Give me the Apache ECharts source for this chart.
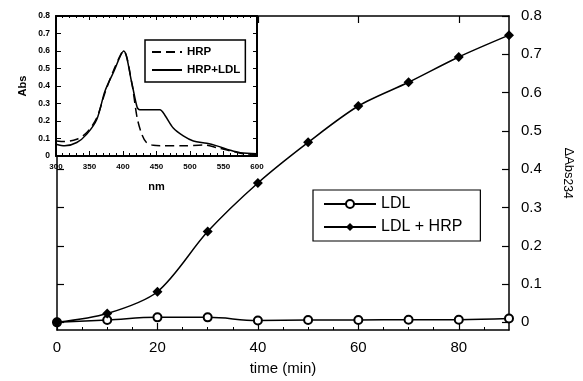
<!DOCTYPE html>
<html>
<head>
<meta charset="utf-8">
<script src="https://cdn.jsdelivr.net/npm/echarts@6/dist/echarts.min.js"></script>
<style>
  html, body { margin: 0; padding: 0; background: #fff; }
  #chart { width: 583px; height: 381px; }
</style>
</head>
<body>
<div id="chart"></div>
<script>
// main plot: time (min) vs delta Abs 234
var times = [0, 10, 20, 30, 40, 50, 60, 70, 80, 90];
var ldl = [0.0, 0.006, 0.013, 0.013, 0.005, 0.006, 0.006, 0.007, 0.007, 0.01];
var ldlHrp = [0.0, 0.023, 0.08, 0.237, 0.364, 0.47, 0.565, 0.627, 0.693, 0.75];

// inset spectra
var nmSolid = [300, 313, 331, 346, 361, 373, 386, 401, 413, 421, 425, 455, 463, 475, 490, 505, 525, 540, 560, 575, 600];
var absSolid = [0.067, 0.058, 0.077, 0.125, 0.21, 0.37, 0.48, 0.6, 0.42, 0.28, 0.265, 0.265, 0.23, 0.16, 0.115, 0.086, 0.073, 0.058, 0.033, 0.019, 0.013];
var nmDashed = [300, 313, 331, 346, 361, 373, 386, 401, 413, 421, 428, 435, 445, 460, 490, 520, 540, 560, 580, 600];
var absDashed = [0.086, 0.083, 0.096, 0.134, 0.22, 0.36, 0.49, 0.6, 0.42, 0.22, 0.125, 0.077, 0.061, 0.058, 0.058, 0.063, 0.048, 0.029, 0.013, 0.01];

var mainYTicks = [0, 0.1, 0.2, 0.3, 0.4, 0.5, 0.6, 0.7, 0.8];
var mainXLabels = [0, 20, 40, 60, 80];

function pairs(xs, ys) {
  return xs.map(function (x, i) { return [x, ys[i]]; });
}

var font = 'Liberation Sans';
var black = '#000';

var chart = echarts.init(document.getElementById('chart'));

var option = {
  backgroundColor: '#fff',
  animation: false,
  textStyle: { fontFamily: font, color: black },
  grid: [
    { left: 57, right: 69, top: 16, bottom: 49 },
    { left: 56, width: 201, top: 16, height: 140, show: true, backgroundColor: '#fff', borderWidth: 0, z: 5 }
  ],
  legend: [
    {
      data: ['LDL', 'LDL + HRP'],
      orient: 'vertical',
      left: 313, top: 190,
      padding: [6, 18, 6, 10],
      itemGap: 7,
      itemWidth: 52, itemHeight: 10,
      borderColor: black, borderWidth: 1.2,
      backgroundColor: '#fff',
      textStyle: { fontSize: 16, color: black, fontFamily: font }
    },
    {
      data: [
        { name: 'HRP', itemStyle: { opacity: 0 } },
        { name: 'HRP+LDL', itemStyle: { opacity: 0 } }
      ],
      orient: 'vertical',
      left: 145, top: 40,
      padding: [6, 5, 6, 6],
      itemGap: 6,
      itemWidth: 30, itemHeight: 10,
      borderColor: black, borderWidth: 1.5,
      backgroundColor: '#fff',
      z: 10,
      textStyle: { fontSize: 11.5, fontWeight: 'bold', color: black, fontFamily: font }
    }
  ],
  xAxis: [
    {
      type: 'value', gridIndex: 0, min: 0, max: 90, position: 'bottom',
      name: 'time (min)', nameLocation: 'middle', nameGap: 31,
      nameTextStyle: { fontSize: 15, color: black },
      axisLine: { onZero: false, lineStyle: { color: black, width: 1.5 } },
      axisTick: { inside: true, length: 7, customValues: [0, 20, 40, 60, 80], lineStyle: { color: black, width: 1.2 } },
      minorTick: { show: true, splitNumber: 4, length: 3, lineStyle: { color: black } },
      axisLabel: { customValues: mainXLabels, fontSize: 15, color: black, margin: 10 },
      splitLine: { show: false }
    },
    {
      type: 'value', gridIndex: 0, min: 0, max: 90, position: 'top',
      axisLine: { onZero: false, lineStyle: { color: black, width: 1.5 } },
      axisTick: { inside: true, length: 7, customValues: [20, 40, 60, 80], lineStyle: { color: black, width: 1.2 } },
      axisLabel: { show: false },
      splitLine: { show: false }
    },
    {
      type: 'value', gridIndex: 1, min: 300, max: 600, interval: 50, position: 'bottom',
      name: 'nm', nameLocation: 'middle', nameGap: 25,
      nameTextStyle: { fontSize: 11, fontWeight: 'bold', color: black },
      axisLine: { onZero: false, lineStyle: { color: black, width: 2 } },
      axisTick: { inside: true, length: 5, lineStyle: { color: black } },
      minorTick: { show: true, splitNumber: 5, length: 3, lineStyle: { color: black } },
      axisLabel: { fontSize: 8, fontWeight: 'bold', color: black, margin: 7 },
      splitLine: { show: false },
      z: 6
    },
    {
      type: 'value', gridIndex: 1, min: 300, max: 600, interval: 50, position: 'top',
      axisLine: { onZero: false, lineStyle: { color: black, width: 2 } },
      axisTick: { inside: true, length: 4, lineStyle: { color: black } },
      minorTick: { show: true, splitNumber: 5, length: 2, lineStyle: { color: black } },
      axisLabel: { show: false },
      splitLine: { show: false },
      z: 6
    }
  ],
  yAxis: [
    {
      type: 'value', gridIndex: 0, min: -0.02, max: 0.8, position: 'left',
      axisLine: { show: true, onZero: false, lineStyle: { color: black, width: 1.5 } },
      axisTick: { show: true, inside: true, length: 7, customValues: mainYTicks, lineStyle: { color: black, width: 1.2 } },
      axisLabel: { show: false },
      splitLine: { show: false }
    },
    {
      type: 'value', gridIndex: 0, min: -0.02, max: 0.8, position: 'right',
      name: '{a|ΔAbs}{b|234}', nameLocation: 'middle', nameGap: 52, nameRotate: -90,
      nameTextStyle: {
        color: black,
        rich: {
          a: { fontSize: 13, fontFamily: font, color: black },
          b: { fontSize: 12, fontFamily: font, color: black, padding: [3, 0, 0, 0] }
        }
      },
      axisLine: { show: true, onZero: false, lineStyle: { color: black, width: 1.5 } },
      axisTick: { show: true, inside: true, length: 7, customValues: mainYTicks, lineStyle: { color: black, width: 1.2 } },
      axisLabel: {
        customValues: mainYTicks, fontSize: 15, color: black, margin: 12,
        formatter: function (v) { return v === 0 ? '0' : v.toFixed(1); }
      },
      splitLine: { show: false }
    },
    {
      type: 'value', gridIndex: 1, min: 0, max: 0.8, interval: 0.1, position: 'left',
      name: 'Abs', nameLocation: 'middle', nameGap: 28, nameRotate: 90,
      nameTextStyle: { fontSize: 11, fontWeight: 'bold', color: black },
      axisLine: { show: true, onZero: false, lineStyle: { color: black, width: 2 } },
      axisTick: { show: true, inside: true, length: 5, lineStyle: { color: black } },
      axisLabel: {
        fontSize: 8.5, fontWeight: 'bold', color: black, margin: 6,
        formatter: function (v) { return v === 0 ? '0' : v.toFixed(1); }
      },
      splitLine: { show: false },
      z: 6
    },
    {
      type: 'value', gridIndex: 1, min: 0, max: 0.8, interval: 0.1, position: 'right',
      axisLine: { show: true, onZero: false, lineStyle: { color: black, width: 2 } },
      axisTick: { show: true, inside: true, length: 4, lineStyle: { color: black } },
      axisLabel: { show: false },
      splitLine: { show: false },
      z: 6
    }
  ],
  series: [
    {
      name: 'LDL', type: 'line', xAxisIndex: 0, yAxisIndex: 1,
      data: pairs(times, ldl), smooth: 0.4,
      symbol: 'emptyCircle', symbolSize: 8,
      itemStyle: { color: black, borderWidth: 1.5 },
      lineStyle: { color: black, width: 1.5 }
    },
    {
      name: 'LDL + HRP', type: 'line', xAxisIndex: 0, yAxisIndex: 1,
      data: pairs(times, ldlHrp), smooth: 0.3,
      symbol: 'diamond', symbolSize: 10,
      itemStyle: { color: black },
      lineStyle: { color: black, width: 1.5 }
    },
    {
      name: 'HRP', type: 'line', xAxisIndex: 2, yAxisIndex: 2,
      data: pairs(nmDashed, absDashed), smooth: 0.3, showSymbol: false,
      lineStyle: { color: black, width: 1.5, type: [9, 5] },
      itemStyle: { color: black },
      z: 7
    },
    {
      name: 'HRP+LDL', type: 'line', xAxisIndex: 2, yAxisIndex: 2,
      data: pairs(nmSolid, absSolid), smooth: 0.3, showSymbol: false,
      lineStyle: { color: black, width: 1.5 },
      itemStyle: { color: black },
      z: 7
    }
  ]
};

chart.setOption(option);
</script>
</body>
</html>
